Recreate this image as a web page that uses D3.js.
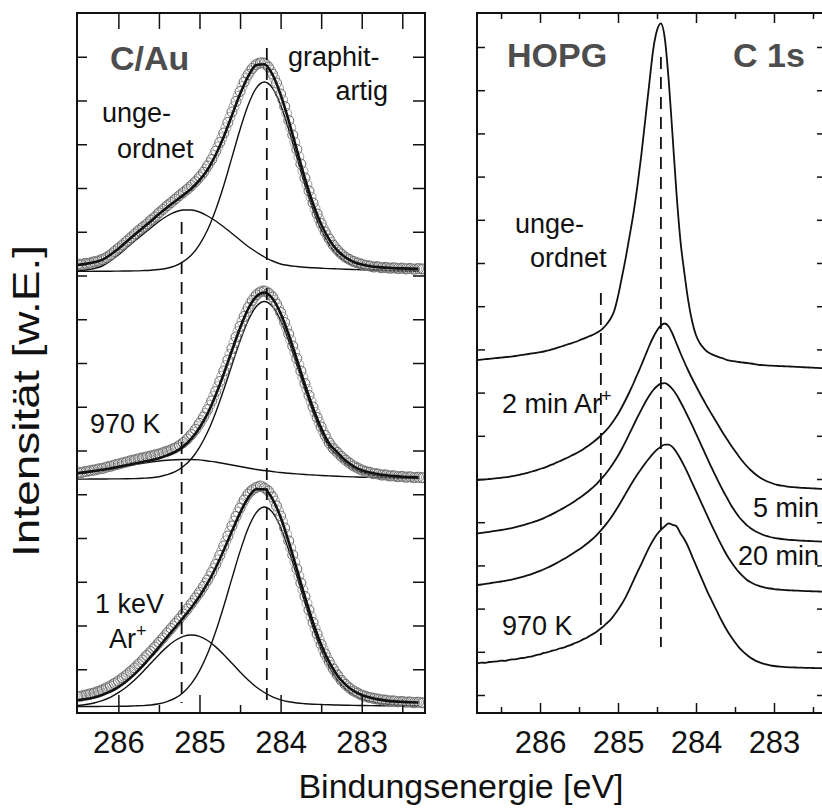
<!DOCTYPE html>
<html>
<head>
<meta charset="utf-8">
<script src="https://cdn.jsdelivr.net/npm/d3@7"></script>
<style>
  body { margin: 0; background: #fff; }
  text { font-family: "Liberation Sans", Arial, Helvetica, sans-serif; }
</style>
</head>
<body>
<svg width="822" height="810"></svg>
<script>
// ---- C/Au panel: binding energies (eV) ----
const fitE = [286.5,286.4,286.3,286.2,286.1,286.0,285.9,285.8,285.7,285.6,
  285.5,285.4,285.3,285.2,285.1,285.0,284.9,284.8,284.7,284.6,
  284.5,284.4,284.3,284.2,284.1,284.0,283.9,283.8,283.7,283.6,
  283.5,283.4,283.3,283.2,283.1,283.0,282.9,282.8,282.7,282.6,
  282.5,282.4,282.3];
const dataE = [286.500,286.475,286.450,286.425,286.400,286.375,286.350,286.325,286.300,286.275,
  286.250,286.225,286.200,286.175,286.150,286.125,286.100,286.075,286.050,286.025,
  286.000,285.975,285.950,285.925,285.900,285.875,285.850,285.825,285.800,285.775,
  285.750,285.725,285.700,285.675,285.650,285.625,285.600,285.575,285.550,285.525,
  285.500,285.475,285.450,285.425,285.400,285.375,285.350,285.325,285.300,285.275,
  285.250,285.225,285.200,285.175,285.150,285.125,285.100,285.075,285.050,285.025,
  285.000,284.975,284.950,284.925,284.900,284.875,284.850,284.825,284.800,284.775,
  284.750,284.725,284.700,284.675,284.650,284.625,284.600,284.575,284.550,284.525,
  284.500,284.475,284.450,284.425,284.400,284.375,284.350,284.325,284.300,284.275,
  284.250,284.225,284.200,284.175,284.150,284.125,284.100,284.075,284.050,284.025,
  284.000,283.975,283.950,283.925,283.900,283.875,283.850,283.825,283.800,283.775,
  283.750,283.725,283.700,283.675,283.650,283.625,283.600,283.575,283.550,283.525,
  283.500,283.475,283.450,283.425,283.400,283.375,283.350,283.325,283.300,283.275,
  283.250,283.225,283.200,283.175,283.150,283.125,283.100,283.075,283.050,283.025,
  283.000,282.975,282.950,282.925,282.900,282.875,282.850,282.825,282.800,282.775,
  282.750,282.725,282.700,282.675,282.650,282.625,282.600,282.575,282.550,282.525,
  282.500,282.475,282.450,282.425,282.400,282.375,282.350,282.325,282.300,282.275,
  282.250];

// stacking offsets of the three C/Au spectra (top, 970 K, 1 keV Ar+)
const cauOffsets = [441, 233.5, 6];

// measured points (open circles)
const cauData = [
  [7.5,8.0,7.4,8.3,8.6,8.4,8.9,9.8,10.2,10.4,
   11.0,12.0,12.6,13.4,14.5,15.8,17.0,18.6,20.5,22.3,
   23.8,25.5,27.0,28.9,30.8,32.5,34.3,36.0,38.0,39.9,
   41.5,43.3,44.9,46.3,48.0,50.0,51.9,53.4,55.0,57.3,
   59.2,60.7,62.5,64.5,66.3,67.8,69.5,71.3,72.8,74.5,
   76.4,77.9,79.5,81.3,82.8,84.5,86.5,88.5,90.3,92.5,
   95.0,97.2,99.8,102.8,106.0,109.0,112.5,116.5,120.8,125.0,
   129.5,134.2,139.0,144.2,149.5,154.8,160.0,165.3,170.5,175.6,
   180.5,185.5,190.0,194.0,197.5,200.8,203.5,205.8,207.5,208.6,
   209.0,209.3,208.8,207.2,205.0,201.8,198.0,193.8,189.0,183.8,
   178.0,172.0,165.5,158.6,151.5,144.3,137.0,129.8,122.5,115.2,
   108.0,100.9,94.0,87.4,81.0,74.8,69.0,63.3,58.0,53.1,
   48.5,44.0,40.0,36.3,33.0,29.8,26.8,24.3,22.0,19.8,
   18.0,16.2,14.8,13.6,12.5,11.3,10.5,9.8,9.0,8.5,
   7.8,7.0,6.5,6.4,6.0,5.3,5.0,5.4,5.2,4.6,
   4.2,4.5,4.6,4.0,3.8,4.1,4.2,3.7,3.5,3.8,
   3.9,3.3,3.1,3.5,3.6,3.0,2.8,3.2,3.4,3.1,
   3.0],
  [6.8,7.3,7.0,7.7,8.0,8.2,8.8,9.3,9.5,9.7,
   10.4,10.9,11.0,11.5,12.3,12.9,13.2,13.6,14.4,15.1,
   15.4,15.8,16.5,17.2,17.5,18.0,18.8,19.4,19.6,20.1,
   20.8,21.4,21.6,22.0,22.6,23.2,23.5,23.9,24.6,25.2,
   25.5,26.0,26.9,27.7,28.2,28.8,29.8,30.8,31.5,32.6,
   34.0,35.4,37.0,38.6,40.5,42.8,45.0,47.4,50.0,52.9,
   56.0,59.1,62.5,66.2,70.0,74.1,78.5,83.1,88.0,92.9,
   98.0,103.2,108.5,114.0,119.5,125.3,131.0,136.9,142.5,147.9,
   153.0,158.2,163.0,167.7,172.0,175.8,179.0,182.0,184.5,186.2,
   187.5,188.4,188.5,187.8,186.5,184.8,182.5,179.2,175.5,171.5,
   167.0,162.2,157.0,151.4,145.5,139.6,133.5,127.2,121.0,114.8,
   108.5,102.2,96.0,90.0,84.0,78.1,72.5,67.1,62.0,57.1,
   52.5,48.0,44.0,40.1,36.5,33.6,31.0,28.9,27.0,24.8,
   23.0,21.3,19.5,17.8,16.5,14.8,13.5,12.6,11.5,10.4,
   9.5,8.9,8.0,7.4,7.2,6.3,5.8,5.9,5.5,4.8,
   4.4,4.8,4.5,3.8,3.5,3.9,3.6,3.0,2.8,3.2,
   3.1,2.5,2.3,2.7,2.6,2.1,1.9,2.2,2.3,1.9,
   1.8],
  [10.5,10.6,11.0,11.7,12.0,12.4,13.0,13.6,14.0,14.9,
   15.6,16.2,17.0,18.1,19.0,19.9,21.0,22.3,23.5,24.6,
   26.0,27.6,29.0,30.4,32.0,33.8,35.5,37.1,39.0,41.1,
   43.0,44.9,47.0,49.4,51.5,53.4,55.5,57.9,60.0,62.1,
   64.5,66.9,69.0,71.4,74.0,76.3,78.5,81.0,83.5,85.6,
   88.0,90.6,93.0,95.4,98.0,100.9,103.5,106.1,109.0,111.8,
   114.5,117.3,120.5,123.8,127.0,130.6,134.5,138.4,142.5,147.0,
   151.5,156.2,161.0,166.1,171.0,176.0,181.0,185.8,190.5,194.9,
   199.0,203.2,207.0,210.2,213.0,215.2,217.0,218.4,219.5,220.5,
   221.0,220.3,219.0,217.8,216.0,213.2,210.0,205.8,201.0,196.2,
   191.0,185.2,179.0,172.6,166.0,159.1,152.0,145.0,138.0,131.0,
   124.0,117.2,110.5,103.7,97.0,90.6,84.5,78.6,73.0,67.6,
   62.5,57.6,53.0,48.8,45.0,41.4,38.0,34.8,32.0,29.1,
   26.5,24.4,22.5,20.6,19.0,17.4,16.0,15.1,14.0,12.8,
   12.0,11.4,10.5,9.8,9.5,9.2,8.5,8.0,8.0,7.6,
   7.0,7.1,6.8,6.3,6.0,6.2,6.0,5.5,5.2,5.6,
   5.5,5.0,4.8,5.1,5.0,4.5,4.3,4.7,4.8,4.4,
   4.2]
];

// fit envelopes
const cauFit = [
  [7.1,8.1,9.7,12.1,17.2,23.2,30.3,37.3,44.0,50.8,
   57.9,64.6,70.8,76.9,83.4,91.8,102.4,117.3,135.6,156.7,
   177.9,195.7,206.9,207.8,197.5,177.4,151.2,122.1,93.4,68.3,
   47.7,32.4,21.5,14.6,10.0,7.4,5.8,4.9,4.3,3.8,
   3.6,3.4,3.2],
  [6.4,7.4,8.5,9.7,11.1,12.6,14.2,15.9,17.6,19.3,
   21.3,24.1,27.6,33.0,40.8,51.8,66.0,84.6,105.9,129.0,
   151.5,170.6,183.0,187.0,181.0,166.1,144.8,120.1,94.9,71.6,
   51.5,35.8,27.2,18.9,13.1,9.3,6.9,5.3,4.2,3.4,
   2.8,2.4,2.1],
  [6.9,8.0,9.5,12.0,15.3,19.9,25.7,32.9,41.1,50.3,
   60.0,69.9,79.6,89.4,99.5,110.8,123.8,139.3,157.0,175.9,
   194.1,209.2,217.7,217.7,207.9,189.7,165.1,137.8,110.1,84.5,
   62.2,44.8,31.6,22.4,16.1,12.0,9.4,7.6,6.4,5.6,
   5.1,4.7,4.5]
];

// graphitic component
const cauGraphit = [
  [0.6,0.6,0.7,0.7,0.8,0.9,1.0,1.1,1.4,1.8,
   2.5,3.8,6.1,10.3,16.9,27.4,42.2,62.3,86.8,114.6,
   142.5,167.0,183.9,190,183.9,167.0,142.5,114.6,86.8,62.3,
   42.2,27.4,16.9,10.3,6.1,3.8,2.5,1.8,1.4,1.1,
   1.0,0.9,0.8],
  [0.4,0.4,0.5,0.5,0.6,0.6,0.7,0.9,1.3,1.8,
   2.8,4.8,7.8,13.0,20.8,32.2,47.5,67.1,89.9,114.5,
   138.5,159.1,173.0,178,173.0,159.1,138.5,114.5,89.9,67.1,
   47.5,32.2,24,16,10.5,7,4.8,3.4,2.5,1.9,
   1.5,1.2,1.0],
  [0.4,0.5,0.5,0.6,0.6,0.7,0.8,1.1,1.4,2.0,
   3.2,5.4,8.8,14.6,23.4,36.2,53.4,75.4,101,128.6,
   155.6,178.8,194.4,200,194.6,179.5,157,131,104,79,
   57,40,27,18,12,8,5.5,3.8,2.7,2.0,
   1.6,1.3,1.1]
];

// disordered component
const cauUngeordnet = [
  [1,2,3.5,6,11,17,24,31,37.5,44,
   50.5,56,60,62,62,60,56,51,45,38.5,
   32,25.5,20,15,11,8,6.5,5.5,4.7,4.2,
   3.8,3.4,3.1,2.8,2.5,2.2,2.0,1.8,1.6,1.5,
   1.4,1.3,1.2],
  [6,7,8,9.2,10.5,12,13.5,15,16.3,17.5,
   18.5,19.3,19.8,20,20,19.6,18.5,17.5,16,14.5,
   13,11.5,10,9,8,7,6.3,5.6,5,4.5,
   4,3.6,3.2,2.9,2.6,2.3,2.1,1.9,1.7,1.5,
   1.3,1.2,1.1],
  [1.5,2.5,4.0,6.4,9.7,14.3,20.0,27.0,35.0,43.7,
   52.3,60.1,66.5,70.6,72,70.6,66.5,60.1,52.3,43.7,
   35.0,27.0,20.0,14.5,10.2,7.2,5.2,4.0,3.3,2.8,
   2.5,2.2,2.0,1.8,1.6,1.5,1.4,1.3,1.2,1.1,
   1.0,0.9,0.9]
];

// ---- HOPG panel ----
const hopgE = [286.80,286.75,286.70,286.65,286.60,286.55,
  286.50,286.45,286.40,286.35,286.30,286.25,286.20,286.15,286.10,286.05,
  286.00,285.95,285.90,285.85,285.80,285.75,285.70,285.65,285.60,285.55,
  285.50,285.45,285.40,285.35,285.30,285.25,285.20,285.15,285.10,285.05,
  285.00,284.95,284.90,284.85,284.80,284.75,284.70,284.65,284.60,284.55,
  284.50,284.45,284.40,284.35,284.30,284.25,284.20,284.15,284.10,284.05,
  284.00,283.95,283.90,283.85,283.80,283.75,283.70,283.65,283.60,283.55,
  283.50,283.45,283.40,283.35,283.30,283.25,283.20,283.15,283.10,283.05,
  283.00,282.95,282.90,282.85,282.80,282.75,282.70,282.65,282.60,282.55,
  282.50,282.45,282.40,282.35];

// HOPG, 2 min, 5 min, 20 min Ar+, 970 K
const hopgOffsets = [344.7, 224, 171.3, 121.3, 44.7];
const hopgSpectra = [
  [8.3,8.7,9.1,9.5,9.9,10.3,10.7,11.1,11.5,11.9,
   12.5,13.1,13.7,14.3,14.9,15.5,16.1,16.8,17.8,18.9,
   20.0,21.2,22.5,23.8,25.0,26.3,27.8,29.4,31.0,32.6,
   34.3,36.5,39.5,43.5,49,57,72,91,111,133,
   156,183,214,249,284,318,338,345,330,288,
   232,175,128,96,68,47,33,25,20,16.3,
   14.2,12.5,11,9.8,8.2,7.5,6.9,6.3,5.8,5.3,
   4.8,4.2,3.5,3.2,2.9,2.7,2.5,2.3,2.1,2.0,
   1.8,1.6,1.4,1.2,1.0,0.8,0.6,0.4,0.2,0],
  [9.0,9.3,9.6,10.0,10.4,10.8,11.2,11.7,12.2,12.8,
   13.6,14.5,15.4,16.4,17.5,18.7,20.0,21.2,22.7,24.3,
   26.0,27.7,29.5,31.3,33.2,35.1,37.2,39.6,42.2,45.0,
   48.0,51.2,54.8,58.8,63.5,69,75,82,89.5,97.5,
   106,115,124,133.5,143,151.5,158.5,163.5,165.5,162.5,
   155,145.5,136,127,118.5,110.5,103,95.5,88.5,81.5,
   75,68.5,62,55.5,49.5,43.5,38,32.5,27.5,23,
   19,15.5,12.5,10,8,6.5,5,4,3.3,2.7,
   2.2,1.8,1.5,1.2,1.0,0.8,0.6,0.4,0.2,0],
  [8.4,8.9,9.4,9.9,10.5,11.1,11.7,12.4,13.1,13.9,
   14.8,15.8,16.9,18.0,19.2,20.5,22.0,23.6,25.4,27.3,
   29.3,31.4,33.6,35.9,38.3,40.8,43.4,46.2,49.2,52.4,
   55.8,59.8,64,68.7,74,79.8,86,93,100.5,108.5,
   116.5,124.5,132,139.5,146,151.5,155.5,158,158.5,156.5,
   152.5,147,140,132.5,124.5,116.5,108,99.5,91,82.5,
   74,66,58,50.5,43.5,36.5,30.5,25,20.5,16.5,
   13.5,11,9,7.2,5.8,4.7,3.8,3.2,2.7,2.3,
   1.9,1.6,1.3,1.1,0.9,0.7,0.5,0.3,0.1,0],
  [6.7,7.2,7.8,8.4,9.0,9.6,10.2,10.9,11.6,12.4,
   13.3,14.3,15.4,16.6,17.9,19.3,20.8,22.4,24.2,26.1,
   28.1,30.2,32.4,34.7,37.1,39.6,42.2,45,48,51.2,
   54.6,58.6,63,67.8,73,78.7,85,91.5,98.3,105,
   111.5,117.5,123,128.5,133.5,138,142,145,147,147,
   144.5,139.5,133,125.5,117.5,109,100.5,92,83.5,75,
   66.5,58.5,50.5,43,36,30,24.5,19.5,15.5,12,
   9.5,7.5,6,4.8,3.9,3.2,2.6,2.2,1.9,1.6,
   1.4,1.2,1.0,0.8,0.6,0.5,0.4,0.3,0.1,0],
  [5.0,5.6,5.5,6.3,6.6,6.9,7.6,7.5,8.4,8.9,
   9.2,10.1,10.5,11.4,12.0,13.2,14.0,15.4,16.1,17.5,
   18.3,19.8,20.6,22.1,23.4,25.3,26.8,28.9,30.5,33.0,
   35.2,38.1,41.0,44.6,48.2,53.0,58.5,64.5,71.5,79.5,
   88.0,96.5,104.5,113.0,121,128,134,138.5,142,145,
   143.5,142,135,129,121.5,112,103,94,85,76,
   68,60,52,44.5,37.5,31.5,26,21,17,13.5,
   10.5,8.2,6.4,5.0,3.9,3.0,2.3,1.8,1.5,1.2,
   1.0,0.9,0.7,0.6,0.5,0.4,0.3,0.2,0.1,0]
];

// peak positions marked by dashed lines [energy, from, to]
const cauMarks = [[285.22, 10, 491], [284.17, 10, 665]];
const hopgMarks = [[285.22, 66, 420], [284.45, 66, 656]];

// axis ticks
const majorTicks = [286, 285, 284, 283];
const minorTicksL = [285.5, 284.5, 283.5, 282.5];
const minorTicksR = [286.5, 285.5, 284.5, 283.5, 282.5];
const cauYTicks = [43.75,87.5,131.25,175,218.75,262.5,306.25,350,393.75,437.5,481.25,525,568.75,612.5,656.25];
const hopgYTicks = [18,61.2,104.4,147.6,190.8,234,277.2,320.4,363.6,406.8,450,493.2,536.4,579.6,622.8,666];

// ------------------------------------------------------------------
const svg = d3.select("svg");
const yTop = 13, yBottom = 713;

const y = d3.scaleLinear().domain([0, 700]).range([yBottom, yTop]);
const xL = d3.scaleLinear().domain([286.51, 282.22]).range([77, 425]);
const xR = d3.scaleLinear().domain([286.808, 282.346]).range([477, 825]);

const defs = svg.append("defs");
[["clipL", xL], ["clipR", xR]].forEach(([id, x]) => {
  defs.append("clipPath").attr("id", id)
    .append("rect")
    .attr("x", x.range()[0]).attr("y", yTop)
    .attr("width", x.range()[1] - x.range()[0]).attr("height", yBottom - yTop);
});

function styleAxis(g) {
  g.select(".domain").remove();
  g.selectAll(".tick line").attr("stroke", "#111").attr("stroke-width", 1.5);
  g.selectAll(".tick text").attr("fill", "#111").attr("font-size", 31)
    .attr("font-family", '"Liberation Sans", Arial, sans-serif');
}

function drawAxes(x, minor, yTicks, sz) {
  const [x0, x1] = x.range();
  svg.append("g").attr("transform", `translate(0,${yBottom})`)
    .call(d3.axisBottom(x).tickValues(majorTicks).tickSize(-sz.major).tickPadding(18).tickFormat(d3.format("d")))
    .call(styleAxis);
  svg.append("g").attr("transform", `translate(0,${yBottom})`)
    .call(d3.axisBottom(x).tickValues(minor).tickSize(-sz.minor).tickFormat(""))
    .call(styleAxis);
  svg.append("g").attr("transform", `translate(0,${yTop})`)
    .call(d3.axisTop(x).tickValues(majorTicks).tickSize(-sz.topMajor).tickFormat(""))
    .call(styleAxis);
  svg.append("g").attr("transform", `translate(0,${yTop})`)
    .call(d3.axisTop(x).tickValues(minor).tickSize(-sz.topMinor).tickFormat(""))
    .call(styleAxis);
  svg.append("g").attr("transform", `translate(${x0},0)`)
    .call(d3.axisLeft(y).tickValues(yTicks).tickSize(-sz.left).tickFormat(""))
    .call(styleAxis);
  svg.append("g").attr("transform", `translate(${x1},0)`)
    .call(d3.axisRight(y).tickValues(yTicks).tickSize(-sz.right).tickFormat(""))
    .call(styleAxis);
  svg.append("rect")
    .attr("x", x0).attr("y", yTop).attr("width", x1 - x0).attr("height", yBottom - yTop)
    .attr("fill", "none").attr("stroke", "#111").attr("stroke-width", 2);
}

function drawMarks(x, marks, clip) {
  svg.append("g").attr("clip-path", `url(#${clip})`)
    .selectAll("line").data(marks).join("line")
    .attr("x1", d => x(d[0])).attr("x2", d => x(d[0]))
    .attr("y1", d => y(d[2])).attr("y2", d => y(d[1]))
    .attr("stroke", "#111").attr("stroke-width", 1.8)
    .attr("stroke-dasharray", "12,8");
}

// ---- left panel: C/Au ----
const gL = svg.append("g").attr("clip-path", "url(#clipL)");
cauOffsets.forEach((off, i) => {
  const line = d3.line()
    .x((d, j) => xL(fitE[j]))
    .y(d => y(d + off))
    .curve(d3.curveMonotoneX);
  [cauGraphit[i], cauUngeordnet[i]].forEach(comp => {
    gL.append("path").attr("d", line(comp))
      .attr("fill", "none").attr("stroke", "#111").attr("stroke-width", 1.4);
  });
  gL.append("g").selectAll("circle").data(cauData[i]).join("circle")
    .attr("cx", (d, j) => xL(dataE[j]))
    .attr("cy", d => y(d + off))
    .attr("r", 5)
    .attr("fill", "none")
    .attr("stroke", (d, j) => j % 2 === 0 ? "#5a5a5a" : "#999")
    .attr("stroke-width", 0.9);
  gL.append("path").attr("d", line(cauFit[i]))
    .attr("fill", "none").attr("stroke", "#111").attr("stroke-width", 2.6);
});
drawMarks(xL, cauMarks, "clipL");
drawAxes(xL, minorTicksL, cauYTicks, {major: 18, minor: 8, topMajor: 16, topMinor: 16, left: 10, right: 12});

// ---- right panel: HOPG ----
const gR = svg.append("g").attr("clip-path", "url(#clipR)");
hopgOffsets.forEach((off, i) => {
  const line = d3.line()
    .x((d, j) => xR(hopgE[j]))
    .y(d => y(d + off))
    .curve(d3.curveMonotoneX);
  gR.append("path").attr("d", line(hopgSpectra[i]))
    .attr("fill", "none").attr("stroke", "#111").attr("stroke-width", 1.8);
});
drawMarks(xR, hopgMarks, "clipR");
drawAxes(xR, minorTicksR, hopgYTicks, {major: 10, minor: 6, topMajor: 10, topMinor: 6, left: 8, right: 8});

// ---- annotations ----
function label(x, yy, txt, opts = {}) {
  const t = svg.append("text").attr("x", x).attr("y", yy)
    .attr("font-size", opts.size || 27)
    .attr("font-weight", opts.bold ? "bold" : null)
    .attr("fill", opts.fill || "#111")
    .attr("text-anchor", opts.anchor || "start")
    .text(txt);
  if (opts.sup) {
    t.append("tspan").attr("dy", -11).attr("font-size", 18).text(opts.sup);
  }
  return t;
}
label(110, 70, "C/Au", {size: 34, bold: true, fill: "#4d4d4d"});
label(288, 66, "graphit-");
label(388, 100, "artig", {anchor: "end"});
label(102, 122, "unge-");
label(117, 158, "ordnet");
label(90, 433, "970 K");
label(95, 613, "1 keV");
label(109, 648, "Ar", {sup: "+"});

label(507, 67, "HOPG", {size: 34, bold: true, fill: "#4d4d4d"});
label(733, 67, "C 1s", {size: 34, bold: true, fill: "#4d4d4d"});
label(515, 233, "unge-");
label(530, 267, "ordnet");
label(502, 413, "2 min Ar", {sup: "+"});
label(753, 517, "5 min");
label(738, 565, "20 min");
label(502, 635, "970 K");

// axis titles
svg.append("text")
  .attr("x", 461).attr("y", 798)
  .attr("text-anchor", "middle").attr("font-size", 34).attr("fill", "#111")
  .text("Bindungsenergie [eV]");
svg.append("text")
  .attr("transform", "translate(39,401) rotate(-90)")
  .attr("text-anchor", "middle").attr("font-size", 36).attr("fill", "#111")
  .attr("textLength", 312).attr("lengthAdjust", "spacingAndGlyphs")
  .text("Intensität [w.E.]");
</script>
</body>
</html>
